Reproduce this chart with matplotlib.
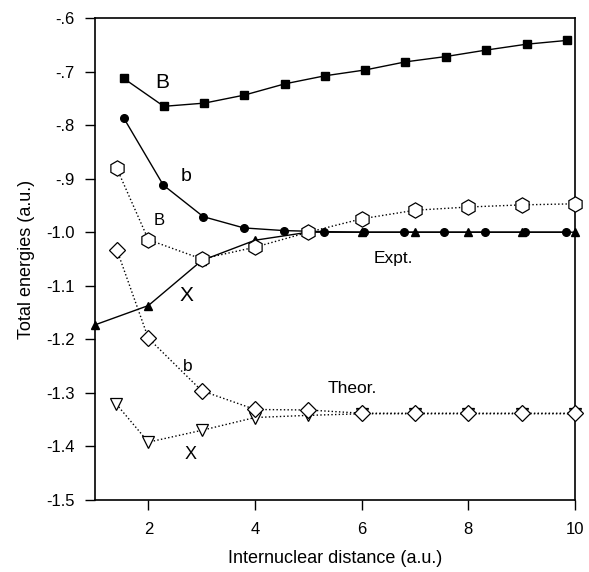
import matplotlib
matplotlib.use("Agg")
import matplotlib.pyplot as plt
from matplotlib.ticker import FixedLocator, FixedFormatter

# Experimental curves (filled markers, solid lines)
expt_B_r = [1.54, 2.29, 3.05, 3.80, 4.56, 5.31, 6.07, 6.82, 7.58, 8.33, 9.09, 9.84]
expt_B_e = [-0.713, -0.765, -0.759, -0.744, -0.723, -0.708, -0.697, -0.682, -0.672, -0.660, -0.649, -0.642]

expt_b_r = [1.54, 2.28, 3.03, 3.79, 4.54, 5.30, 6.04, 6.79, 7.55, 8.31, 9.07, 9.83]
expt_b_e = [-0.787, -0.912, -0.971, -0.992, -0.997, -0.999, -1.0, -1.0, -1.0, -1.0, -1.0, -1.0]

expt_X_r = [1, 2, 3, 4, 5, 6, 7, 8, 9, 10]
expt_X_e = [-1.173, -1.137, -1.053, -1.015, -1.0, -1.0, -1.0, -1.0, -1.0, -1.0]

# Theoretical curves (open markers, dotted lines)
theo_B_r = [1.41, 2, 3, 4, 5, 6, 7, 8, 9, 10]
theo_B_e = [-0.881, -1.014, -1.050, -1.028, -1.0, -0.975, -0.959, -0.953, -0.949, -0.947]

theo_b_r = [1.41, 2, 3, 4, 5, 6, 7, 8, 9, 10]
theo_b_e = [-1.033, -1.198, -1.296, -1.331, -1.332, -1.338, -1.338, -1.338, -1.338, -1.338]

theo_X_r = [1.40, 2, 3, 4, 5, 6, 7, 8, 9, 10]
theo_X_e = [-1.321, -1.392, -1.370, -1.346, -1.342, -1.339, -1.339, -1.339, -1.339, -1.339]

y_ticks = [-1.5, -1.4, -1.3, -1.2, -1.1, -1.0, -0.9, -0.8, -0.7, -0.6]
y_tick_labels = ["-1.5", "-1.4", "-1.3", "-1.2", "-1.1", "-1.0", "-.9", "-.8", "-.7", "-.6"]
x_ticks = [2, 4, 6, 8, 10]

plt.rcParams["font.family"] = ["Liberation Sans", "DejaVu Sans"]

fig = plt.figure(figsize=(5.89, 5.72), dpi=100)
ax = fig.add_axes([0.1613, 0.1259, 0.815, 0.8427])

ax.plot(expt_X_r, expt_X_e, color="black", lw=1.0, marker="^", ms=6,
        zorder=2, clip_on=False)
ax.plot(expt_b_r, expt_b_e, color="black", lw=1.0, marker="o", ms=5.5,
        zorder=2, clip_on=False)
ax.plot(expt_B_r, expt_B_e, color="black", lw=1.0, marker="s", ms=5.5,
        zorder=2, clip_on=False)

ax.plot(theo_X_r, theo_X_e, color="black", lw=1.0, ls=":", marker="v",
        ms=9, mfc="white", mew=0.9, zorder=3, clip_on=False)
ax.plot(theo_b_r, theo_b_e, color="black", lw=1.0, ls=":", marker="D",
        ms=8, mfc="white", mew=0.9, zorder=4, clip_on=False)
ax.plot(theo_B_r, theo_B_e, color="black", lw=1.0, ls=":", marker="h",
        ms=11, mfc="white", mew=0.9, zorder=4, clip_on=False)

labels = [
    (2.26, -0.721, "B", 15),
    (2.71, -0.896, "b", 14),
    (2.21, -0.978, "B", 12),
    (2.71, -1.118, "X", 15),
    (6.59, -1.050, "Expt.", 12.5),
    (2.74, -1.251, "b", 12.5),
    (5.83, -1.291, "Theor.", 12.5),
    (2.80, -1.415, "X", 13),
]
for x, y, s, fs in labels:
    ax.text(x, y, s, fontsize=fs, ha="center", va="center")

ax.set_xlim(1, 10)
ax.set_ylim(-1.5, -0.6)
ax.xaxis.set_major_locator(FixedLocator(x_ticks))
ax.yaxis.set_major_locator(FixedLocator(y_ticks))
ax.yaxis.set_major_formatter(FixedFormatter(y_tick_labels))
ax.tick_params(direction="out", length=7.5, width=1, labelsize=12)
ax.tick_params(axis="y", pad=7)
ax.tick_params(axis="x", pad=8)
for sp in ax.spines.values():
    sp.set_linewidth(1.2)

ax.set_xlabel("Internuclear distance (a.u.)", fontsize=13, labelpad=10)
ax.set_ylabel("Total energies (a.u.)", fontsize=13, labelpad=8)

fig.savefig("out.png", dpi=100)
